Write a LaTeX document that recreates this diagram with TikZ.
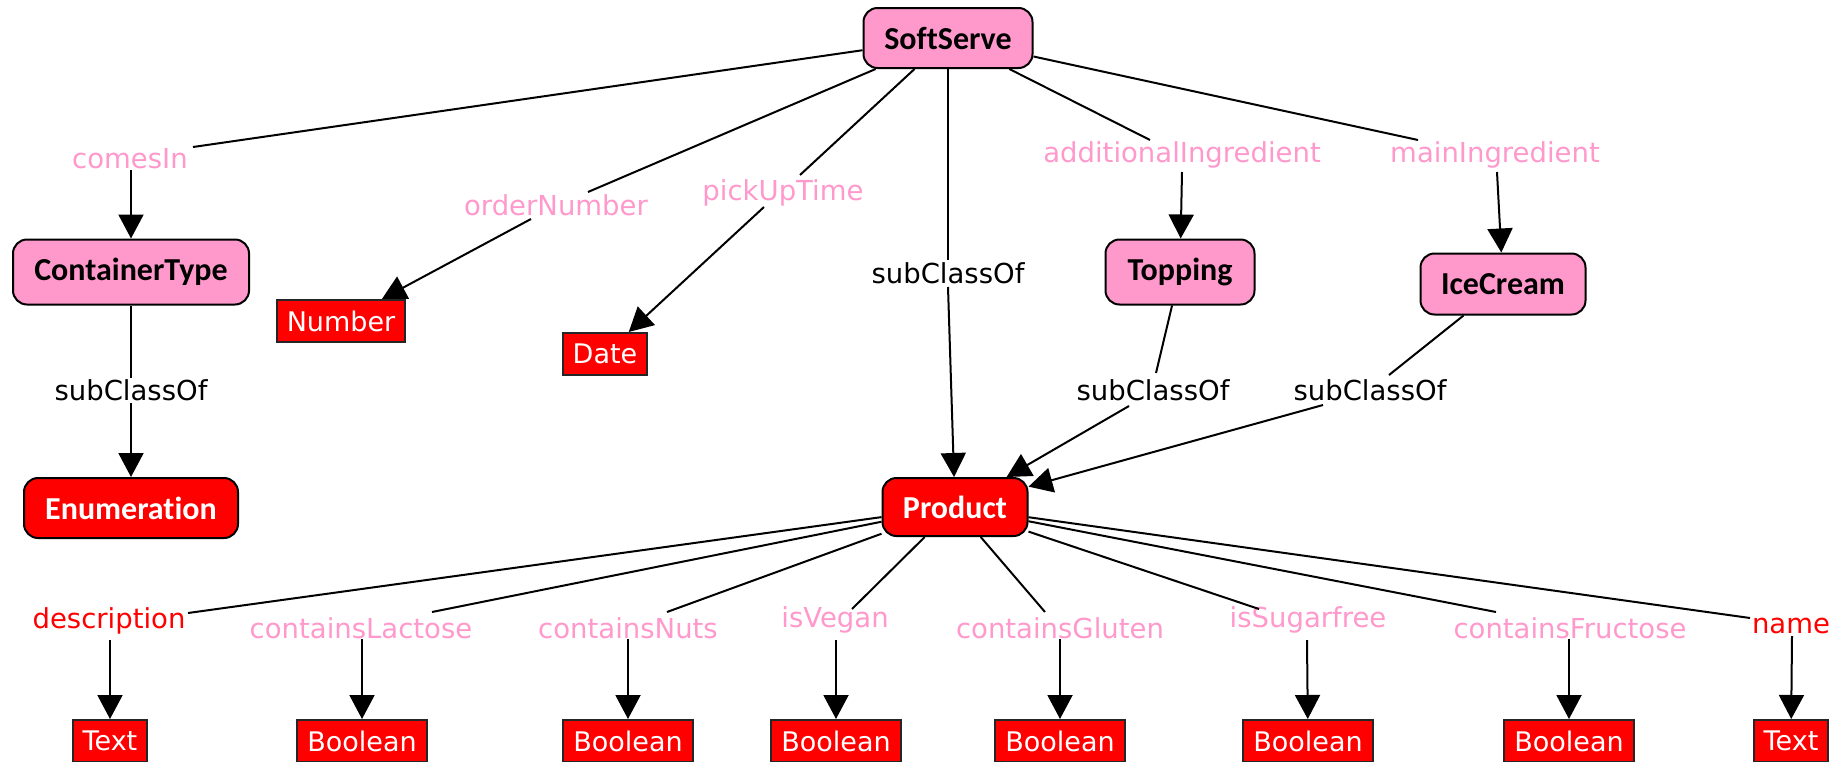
\documentclass[tikz,border=0pt]{standalone}
\usepackage{fontspec}
\usetikzlibrary{arrows.meta}
\newfontfamily\lblfont{DejaVu Sans}
\newfontfamily\clsfont{Carlito}[Ligatures=NoCommon]
\definecolor{pinkc}{RGB}{255,153,204}
\definecolor{redc}{RGB}{255,0,0}
\tikzset{
  cls/.style={draw=black, line width=2pt, rounded corners=14pt, fill=pinkc, text=black,
    font=\clsfont\bfseries\fontsize{32}{38}\selectfont, inner sep=0pt},
  clsred/.style={cls, fill=redc, text=white},
  dt/.style={draw=black!85, line width=2pt, fill=redc, text=white,
    font=\lblfont\fontsize{27}{32}\selectfont, minimum height=42pt, inner xsep=10pt, inner ysep=0pt},
  lbl/.style={anchor=base, inner sep=0pt, font=\lblfont\fontsize{27.5}{33}\selectfont, text=pinkc},
  lblr/.style={lbl, text=redc},
  lblk/.style={lbl, text=black},
  edge/.style={draw=black, line width=2pt},
  arr/.style={edge, -{Triangle[length=24pt,width=25pt]}},
}
\begin{document}
\begin{tikzpicture}[x=1pt,y=-1pt]
\useasboundingbox (0,0) rectangle (1840,761);
% class nodes
\node[cls, minimum width=169pt, minimum height=60pt] (SoftServe) at (948,38) {SoftServe};
\node[cls, minimum width=236pt, minimum height=65pt] (ContainerType) at (131,272) {ContainerType};
\node[clsred, minimum width=214pt, minimum height=60pt] (Enumeration) at (131,508) {Enumeration};
\node[cls, minimum width=149pt, minimum height=65pt] (Topping) at (1180,272) {Topping};
\node[cls, minimum width=165pt, minimum height=61pt] (IceCream) at (1503,284) {IceCream};
\node[clsred, minimum width=145pt, minimum height=58pt] (Product) at (955,507) {Product};
% datatype nodes
\node[dt] (Number) at (341,321) {Number};
\node[dt] (Date) at (605,354) {Date};
\node[dt] (Text1) at (110,741) {Text};
\node[dt] (Bool1) at (362,741) {Boolean};
\node[dt] (Bool2) at (628,741) {Boolean};
\node[dt] (Bool3) at (836,741) {Boolean};
\node[dt] (Bool4) at (1060,741) {Boolean};
\node[dt] (Bool5) at (1308,741) {Boolean};
\node[dt] (Bool6) at (1569,741) {Boolean};
\node[dt] (Text2) at (1791,741) {Text};
% labels
\node[lbl] (lComesIn) at (130,168) {comesIn};
\node[lbl] (lOrderNumber) at (556,215) {orderNumber};
\node[lbl] (lPickUpTime) at (783,200) {pickUpTime};
\node[lblk] (lSub0) at (948,283) {subClassOf};
\node[lbl] (lAddIng) at (1182,162) {additionalIngredient};
\node[lbl] (lMainIng) at (1495,162) {mainIngredient};
\node[lblk] (lSub1) at (131,400) {subClassOf};
\node[lblk] (lSub2) at (1153,400) {subClassOf};
\node[lblk] (lSub3) at (1370,400) {subClassOf};
\node[lblr] (lDesc) at (109,628) {description};
\node[lbl] (lLact) at (361,638) {containsLactose};
\node[lbl] (lNuts) at (628,638) {containsNuts};
\node[lbl] (lVegan) at (835,627) {isVegan};
\node[lbl] (lGluten) at (1060,638) {containsGluten};
\node[lbl] (lSugar) at (1308,627) {isSugarfree};
\node[lbl] (lFruc) at (1570,638) {containsFructose};
\node[lblr] (lName) at (1791,633) {name};
% connector end points near labels
\coordinate (a1) at (193,147);  \coordinate (b1) at (131,170);
\coordinate (a2) at (588,192);  \coordinate (b2) at (531,219);
\coordinate (a3) at (800,175);  \coordinate (b3) at (764,207);
\coordinate (a4) at (948,260);  \coordinate (b4) at (948,287);
\coordinate (a5) at (1150,140); \coordinate (b5) at (1182,172);
\coordinate (a6) at (1418,140); \coordinate (b6) at (1497,172);
\coordinate (a7) at (131,378);  \coordinate (b7) at (131,403);
\coordinate (a8) at (1156,373); \coordinate (b8) at (1129,406);
\coordinate (a9) at (1389,375); \coordinate (b9) at (1323,405);
\coordinate (a10) at (188,613);  \coordinate (b10) at (110,640);
\coordinate (a11) at (432,612);  \coordinate (b11) at (362,639);
\coordinate (a12) at (667,612);  \coordinate (b12) at (628,639);
\coordinate (a13) at (852,609);  \coordinate (b13) at (836,640);
\coordinate (a14) at (1045,612); \coordinate (b14) at (1060,639);
\coordinate (a15) at (1259,609); \coordinate (b15) at (1307,640);
\coordinate (a16) at (1496,612); \coordinate (b16) at (1569,639);
\coordinate (a17) at (1750,618); \coordinate (b17) at (1792,636);
% connectors
\draw[edge] (SoftServe) -- (a1); \draw[arr] (b1) -- (ContainerType);
\draw[edge] (SoftServe) -- (a2); \draw[arr] (b2) -- (Number);
\draw[edge] (SoftServe) -- (a3); \draw[arr] (b3) -- (Date);
\draw[edge] (SoftServe) -- (a4); \draw[arr] (b4) -- (Product);
\draw[edge] (SoftServe) -- (a5); \draw[arr] (b5) -- (Topping);
\draw[edge] (SoftServe) -- (a6); \draw[arr] (b6) -- (IceCream);
\draw[edge] (ContainerType) -- (a7); \draw[arr] (b7) -- (Enumeration);
\draw[edge] (Topping) -- (a8); \draw[arr] (b8) -- (Product);
\draw[edge] (IceCream) -- (a9); \draw[arr] (b9) -- (Product);
\draw[edge] (Product) -- (a10); \draw[arr] (b10) -- (Text1);
\draw[edge] (Product) -- (a11); \draw[arr] (b11) -- (Bool1);
\draw[edge] (Product) -- (a12); \draw[arr] (b12) -- (Bool2);
\draw[edge] (Product) -- (a13); \draw[arr] (b13) -- (Bool3);
\draw[edge] (Product) -- (a14); \draw[arr] (b14) -- (Bool4);
\draw[edge] (Product) -- (a15); \draw[arr] (b15) -- (Bool5);
\draw[edge] (Product) -- (a16); \draw[arr] (b16) -- (Bool6);
\draw[edge] (Product) -- (a17); \draw[arr] (b17) -- (Text2);
\end{tikzpicture}
\end{document}
